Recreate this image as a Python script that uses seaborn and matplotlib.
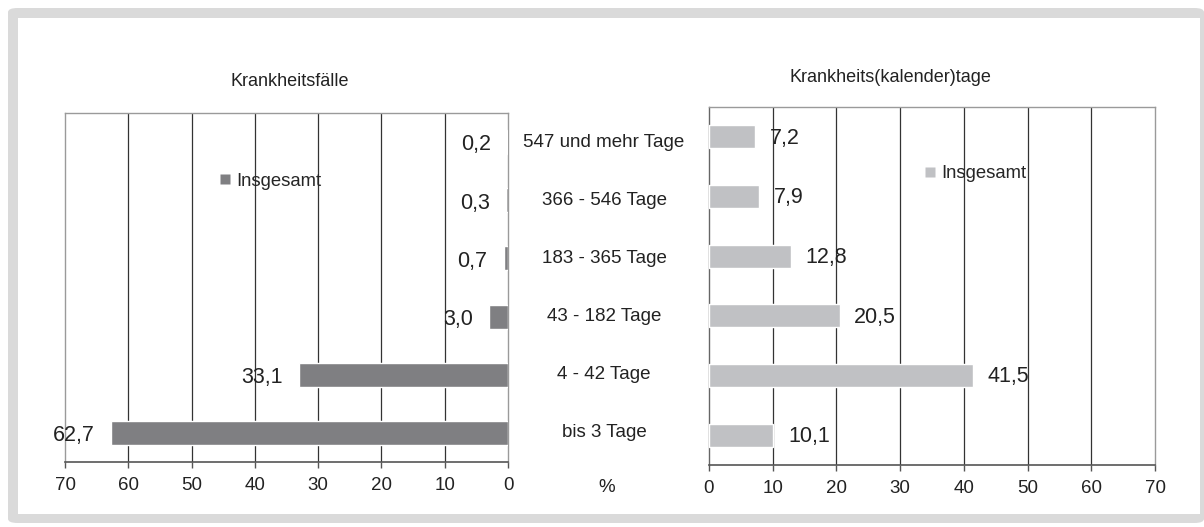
import numpy as np
import pandas as pd
import matplotlib
matplotlib.use('Agg')
import matplotlib.pyplot as plt
import matplotlib.transforms as mtransforms
from matplotlib.patches import FancyBboxPatch
from matplotlib.lines import Line2D
import seaborn as sns

# ==============================================================
# DATA
# ==============================================================
categories = ['547 und mehr Tage', '366 - 546 Tage', '183 - 365 Tage',
              '43 - 182 Tage', '4 - 42 Tage', 'bis 3 Tage']
faelle = [0.2, 0.3, 0.7, 3.0, 33.1, 62.7]      # Krankheitsfälle in %
tage = [7.2, 7.9, 12.8, 20.5, 41.5, 10.1]       # Krankheits(kalender)tage in %
x_ticks = [0, 10, 20, 30, 40, 50, 60, 70]

title_left = 'Krankheitsfälle'
title_right = 'Krankheits(kalender)tage'
legend_label = 'Insgesamt'

df = pd.DataFrame({'kategorie': categories, 'faelle': faelle, 'tage': tage})

# ==============================================================
# STYLE
# ==============================================================
sns.set_theme(style='white')
plt.rcParams['font.family'] = ['Liberation Sans', 'DejaVu Sans']

W, H = 1204, 527
fig = plt.figure(figsize=(W / 100, H / 100), dpi=100)
fig.patch.set_facecolor('white')

# grey rounded frame around the chart
def fx(px): return px / W
def fy(py): return 1 - py / H

outer = FancyBboxPatch((fx(8), fy(523)), fx(1204) - fx(8), fy(8) - fy(523),
                       boxstyle='round,pad=0,rounding_size=0.008',
                       transform=fig.transFigure, facecolor='#dadada',
                       edgecolor='none', zorder=-2)
inner = plt.Rectangle((fx(18), fy(514)), fx(1200) - fx(18), fy(18) - fy(514),
                      transform=fig.transFigure, facecolor='white',
                      edgecolor='none', zorder=-1)
fig.patches.extend([outer, inner])

ax_l = fig.add_axes([fx(65), fy(462), fx(508) - fx(65), fy(113) - fy(462)])
ax_r = fig.add_axes([fx(709), fy(465), fx(1155) - fx(709), fy(107) - fy(465)])

dark = '#7f7f82'
light = '#c0c1c4'

sns.barplot(data=df, x='faelle', y='kategorie', color=dark, width=0.41,
            saturation=1, ax=ax_l, zorder=3)
sns.barplot(data=df, x='tage', y='kategorie', color=light, width=0.39,
            saturation=1, ax=ax_r, zorder=3)

ax_l.set_xlim(70, 0)
ax_r.set_xlim(0, 70)

for ax in (ax_l, ax_r):
    ax.set_facecolor('none')
    ax.set_xlabel('')
    ax.set_ylabel('')
    ax.set_yticks([])
    ax.set_xticks(x_ticks)
    ax.set_xticklabels([str(t) for t in x_ticks], fontsize=13.5, color='#222222')
    ax.tick_params(axis='x', bottom=True, length=4, width=1, color='#555555', pad=7)
    for t in x_ticks[1:-1]:
        ax.axvline(t, color='#333333', lw=0.9, zorder=1)
    for side in ('top', 'left', 'right'):
        ax.spines[side].set_visible(True)
        ax.spines[side].set_color('#9a9a9a')
        ax.spines[side].set_linewidth(1)
    ax.spines['bottom'].set_color('#555555')
    ax.spines['bottom'].set_linewidth(1.2)
ax_r.spines['left'].set_color('#666666')

# value labels
for i, v in enumerate(faelle):
    ax_l.annotate(f'{v:.1f}'.replace('.', ','), (v, i), xytext=(-11.5, -2),
                  textcoords='offset points', ha='right', va='center',
                  fontsize=15.5, color='#222222', zorder=4)
for i, v in enumerate(tage):
    ax_r.annotate(f'{v:.1f}'.replace('.', ','), (v, i), xytext=(10.5, -1),
                  textcoords='offset points', ha='left', va='center',
                  fontsize=15.5, color='#222222', zorder=4)

# category labels between the two panels
trans = mtransforms.blended_transform_factory(fig.transFigure, ax_l.transData)
for i, c in enumerate(categories):
    ax_l.text(fx(604), i, c, transform=trans, ha='center', va='center',
              fontsize=13.5, color='#222222', clip_on=False)

fig.text(fx(607), fy(487), '%', ha='center', va='center', fontsize=13.5, color='#222222')

# titles
fig.text(fx(290), fy(81), title_left, ha='center', va='center', fontsize=13, color='#222222')
fig.text(fx(890), fy(77), title_right, ha='center', va='center', fontsize=13, color='#222222')

# legends
h_l = Line2D([], [], marker='s', color='none', markerfacecolor=dark,
             markeredgecolor='none', markersize=7)
h_r = Line2D([], [], marker='s', color='none', markerfacecolor=light,
             markeredgecolor='none', markersize=7)
ax_l.legend([h_l], [legend_label], loc='center left', frameon=False,
            bbox_to_anchor=(fx(203), fy(181)), bbox_transform=fig.transFigure,
            handlelength=0.6, handletextpad=0.3, fontsize=13.3)
ax_r.legend([h_r], [legend_label], loc='center left', frameon=False,
            bbox_to_anchor=(fx(908), fy(174)), bbox_transform=fig.transFigure,
            handlelength=0.6, handletextpad=0.3, fontsize=13.3)

plt.savefig('out.png', dpi=100)
